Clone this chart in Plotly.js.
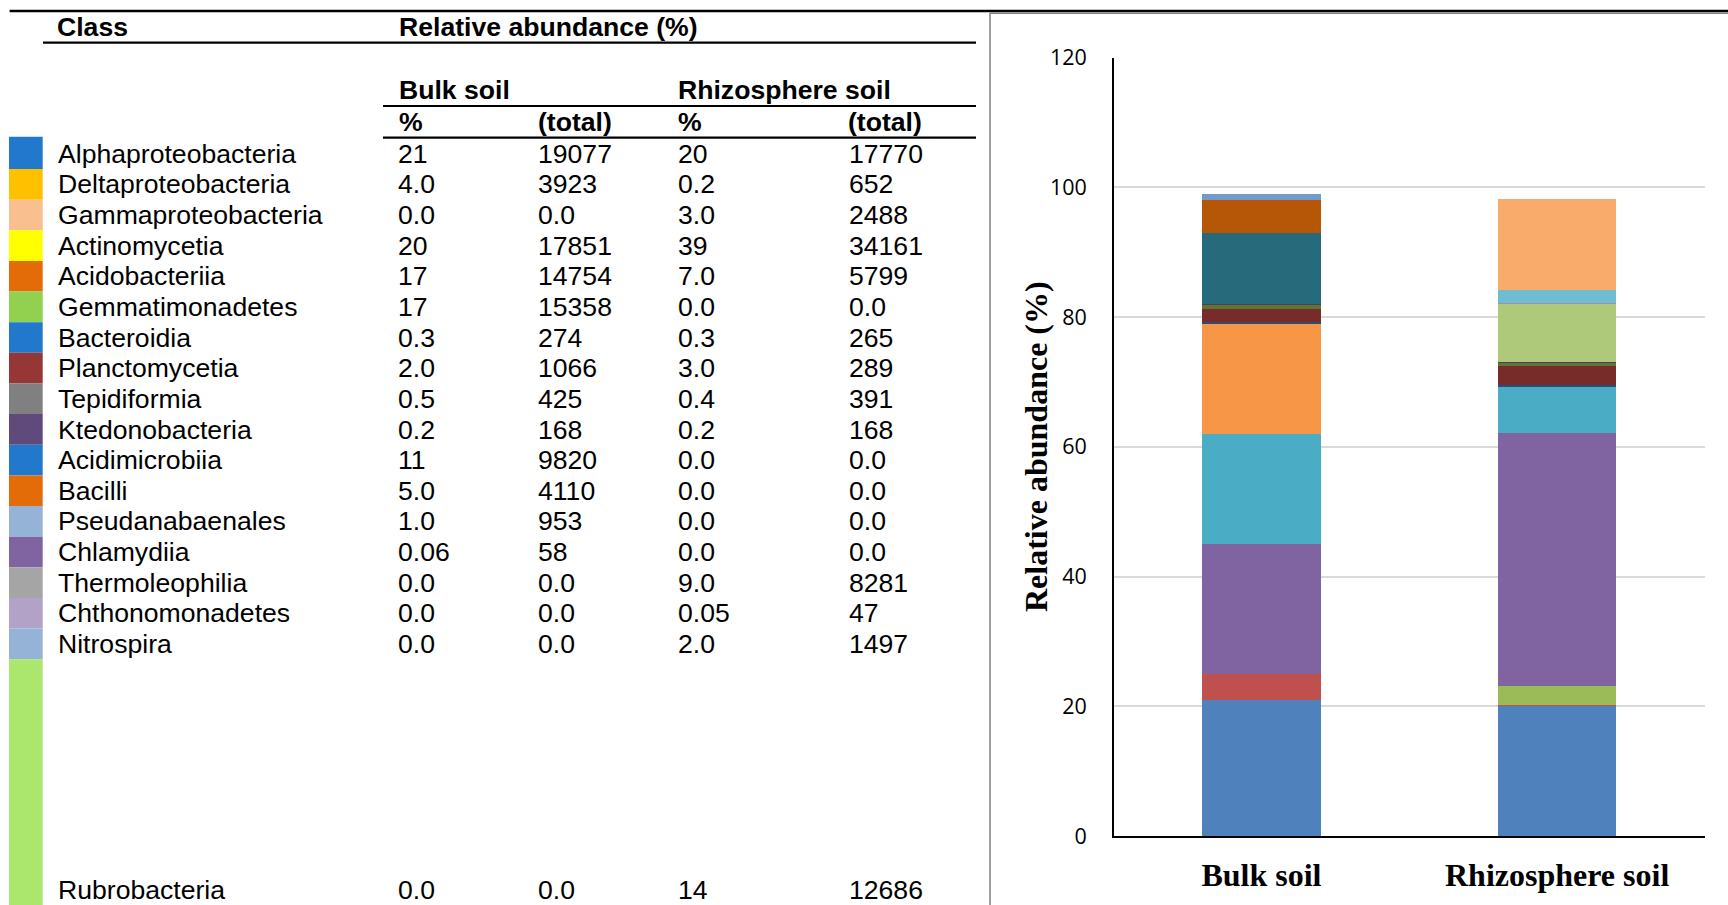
<!DOCTYPE html>
<html>
<head>
<meta charset="utf-8">
<script src="https://cdn.plot.ly/plotly-3.0.1.min.js"></script>
<style>
html,body{margin:0;padding:0;background:#fff;}
#chart{width:1728px;height:905px;}
</style>
</head>
<body>
<div id="chart"></div>
<script>
// ---------- DATA ----------
const classes = ["Alphaproteobacteria","Deltaproteobacteria","Gammaproteobacteria","Actinomycetia","Acidobacteriia","Gemmatimonadetes","Bacteroidia","Planctomycetia","Tepidiformia","Ktedonobacteria","Acidimicrobiia","Bacilli","Pseudanabaenales","Chlamydiia","Thermoleophilia","Chthonomonadetes","Nitrospira","Rubrobacteria"];
const bulkPct    = ["21","4.0","0.0","20","17","17","0.3","2.0","0.5","0.2","11","5.0","1.0","0.06","0.0","0.0","0.0","0.0"];
const bulkTotal  = ["19077","3923","0.0","17851","14754","15358","274","1066","425","168","9820","4110","953","58","0.0","0.0","0.0","0.0"];
const rhizoPct   = ["20","0.2","3.0","39","7.0","0.0","0.3","3.0","0.4","0.2","0.0","0.0","0.0","0.0","9.0","0.05","2.0","14"];
const rhizoTotal = ["17770","652","2488","34161","5799","0.0","265","289","391","168","0.0","0.0","0.0","0.0","8281","47","1497","12686"];
const sampleLabels = ["Bulk soil","Rhizosphere soil"];
const yTicks = [0,20,40,60,80,100,120];
const swatchColors = ["#2178CC","#FFC000","#F9BF8F","#FFFF00","#E36C09","#92D050","#2178CC","#953735","#808080","#604A7B","#2178CC","#E36C09","#95B3D7","#8064A2","#A5A5A5","#B2A2C7","#95B3D7","#ABE66D"];
const barColors = ["#4F81BD","#C0504D","#9BBB59","#8064A2","#4BACC6","#F79646","#2C4D75","#772C2A","#5F7530","#4D3B62","#276A7C","#B65708","#729ACA","#CD7371","#AFC97A","#A18FBA","#6FBDD1","#F9AB6B"];

// ---------- helpers (pixel -> paper) ----------
const W = 1728, H = 905;
const px = x => x / W;
const py = y => 1 - y / H;

// ---------- bars ----------
const traces = classes.map((c, i) => ({
  type: "bar",
  name: c,
  x: sampleLabels,
  y: [Number(bulkPct[i]), Number(rhizoPct[i])],
  marker: {color: barColors[i], line: {width: 0}},
  hoverinfo: "name+y"
}));

// ---------- table ----------
const shapes = [];
const annotations = [];
const txtFont = {family: "Liberation Sans, Arial, sans-serif", size: 26.6, color: "#000"};
function txt(x, y, t, font) {
  annotations.push({xref: "paper", yref: "paper", x: px(x - 2), y: py(y), text: t,
    showarrow: false, xanchor: "left", yanchor: "middle", font: font || txtFont});
}
function hline(x0, x1, y, w, col) {
  shapes.push({type: "line", xref: "paper", yref: "paper", x0: px(x0), x1: px(x1), y0: py(y), y1: py(y),
    line: {color: col || "#000", width: w}});
}

// lines
hline(9.6, 1728, 11, 2.5);
hline(43, 976, 42.7, 2.2);
hline(383, 976, 106, 2.2);
hline(383, 976, 137.7, 2.2);

// headers
txt(57, 27.5, "<b>Class</b>");
txt(398.6, 27.5, "<b>Relative abundance (%)</b>");
txt(398.6, 90.5, "<b>Bulk soil</b>");
txt(678, 90.5, "<b>Rhizosphere soil</b>");
txt(398.6, 121.5, "<b>%</b>");
txt(537.6, 121.5, "<b>(total)</b>");
txt(678, 121.5, "<b>%</b>");
txt(848, 121.5, "<b>(total)</b>");

// swatches and rows
const colX = [57.7, 398, 538, 678, 849];
classes.forEach((c, i) => {
  const top = i === 0 ? 136.7 : 169 + 30.64 * (i - 1);
  const bot = i === classes.length - 1 ? 905 : 169 + 30.64 * i;
  shapes.push({type: "rect", xref: "paper", yref: "paper", x0: px(9), x1: px(42.7), y0: py(bot), y1: py(top),
    fillcolor: swatchColors[i], line: {width: 0}});
  const yc = i === classes.length - 1 ? 890 : 153.8 + 30.64 * i;
  txt(colX[0], yc, c);
  txt(colX[1], yc, bulkPct[i]);
  txt(colX[2], yc, bulkTotal[i]);
  txt(colX[3], yc, rhizoPct[i]);
  txt(colX[4], yc, rhizoTotal[i]);
});

// chart frame
shapes.push({type: "rect", xref: "paper", yref: "paper", x0: px(990), x1: px(1745), y0: py(925), y1: py(13.3),
  line: {color: "#7F7F7F", width: 1.5}, fillcolor: "rgba(0,0,0,0)"});

// y axis title
annotations.push({xref: "paper", yref: "paper", x: px(1036), y: py(447), text: "<b>Relative abundance (%)</b>",
  textangle: -90, showarrow: false, xanchor: "center", yanchor: "middle",
  font: {family: "Liberation Serif, Times New Roman, serif", size: 32, color: "#000"}});

const layout = {
  width: W, height: H,
  margin: {l: 0, r: 0, t: 0, b: 0},
  paper_bgcolor: "#fff", plot_bgcolor: "#fff",
  showlegend: false,
  barmode: "stack",
  bargap: 0.6,
  xaxis: {
    domain: [px(1113.6), px(1705)],
    showgrid: false, zeroline: false,
    showline: true, linecolor: "#000", linewidth: 2.2,
    ticks: "", ticklabelstandoff: 9,
    tickfont: {family: "Liberation Serif, Times New Roman, serif", size: 32, color: "#000", weight: "bold"}
  },
  yaxis: {
    domain: [py(836), py(57.7)],
    range: [0, 120], tickvals: yTicks, ticktext: yTicks.map(String),
    showgrid: true, gridcolor: "#D9D9D9", gridwidth: 2,
    zeroline: false, showline: true, linecolor: "#000", linewidth: 1.5,
    ticks: "", ticklabelstandoff: 21,
    tickfont: {family: "Open Sans, sans-serif", size: 21.5, color: "#000"}
  },
  shapes: shapes,
  annotations: annotations
};

Plotly.newPlot("chart", traces, layout, {displayModeBar: false, staticPlot: true});
</script>
</body>
</html>
